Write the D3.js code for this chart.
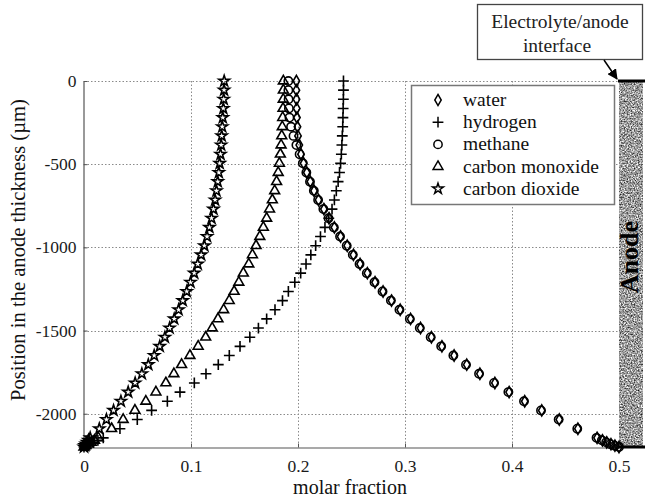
<!DOCTYPE html>
<html>
<head>
<meta charset="utf-8">
<script src="https://cdn.jsdelivr.net/npm/d3@7/dist/d3.min.js"></script>
<style>
  html, body { margin: 0; padding: 0; background: #fff; }
  svg { display: block; font-family: "Liberation Serif", "Times New Roman", serif; }
</style>
</head>
<body>
<svg id="chart" width="645" height="500"></svg>
<script>
// Position through the anode thickness (µm), shared by every species
const positions = [0, -55, -110, -165, -220, -275, -330, -385, -440, -495,
  -550, -605, -660, -715, -770, -825, -880, -935, -990, -1045,
  -1100, -1155, -1210, -1265, -1320, -1375, -1430, -1485, -1540, -1595,
  -1650, -1705, -1760, -1815, -1870, -1925, -1980, -2035, -2090, -2145,
  -2160, -2172, -2183, -2192, -2200];

// Molar fraction of each species at those positions
const water = [0.1985, 0.1985, 0.1986, 0.1988, 0.199, 0.1995, 0.2, 0.2012, 0.2028, 0.2052,
  0.2082, 0.2115, 0.215, 0.2192, 0.2242, 0.229, 0.234, 0.2398, 0.246, 0.2518,
  0.258, 0.2648, 0.272, 0.2795, 0.2874, 0.2955, 0.3052, 0.3145, 0.3247, 0.3345,
  0.3459, 0.3577, 0.37, 0.384, 0.3973, 0.4119, 0.4278, 0.4442, 0.4616, 0.4795,
  0.4845, 0.4885, 0.4925, 0.4962, 0.5];
const hydrogen = [0.2425, 0.2425, 0.2424, 0.2422, 0.242, 0.2418, 0.2414, 0.241, 0.2405, 0.2398,
  0.2388, 0.2375, 0.2358, 0.234, 0.2318, 0.2288, 0.2252, 0.221, 0.2165, 0.212,
  0.2075, 0.2025, 0.197, 0.191, 0.1855, 0.1785, 0.1707, 0.163, 0.155, 0.1458,
  0.1358, 0.1255, 0.114, 0.1031, 0.0897, 0.0779, 0.0632, 0.0498, 0.0336, 0.018,
  0.013, 0.009, 0.005, 0.002, 0.0];
const methane = [0.191, 0.191, 0.1912, 0.1915, 0.192, 0.1935, 0.1958, 0.1985, 0.2015, 0.2045,
  0.2078, 0.2112, 0.2148, 0.2188, 0.2237, 0.2285, 0.2335, 0.2393, 0.2455, 0.2512,
  0.2575, 0.2643, 0.2715, 0.279, 0.2868, 0.2948, 0.3045, 0.3138, 0.324, 0.3338,
  0.3452, 0.357, 0.3692, 0.3832, 0.3966, 0.4112, 0.4271, 0.4436, 0.461, 0.479,
  0.484, 0.488, 0.492, 0.496, 0.5];
const carbonMonoxide = [0.1863, 0.1863, 0.1862, 0.186, 0.1857, 0.1853, 0.1848, 0.1842, 0.1835, 0.1826,
  0.1815, 0.18, 0.1782, 0.176, 0.1734, 0.1707, 0.1676, 0.1643, 0.1608, 0.1574,
  0.154, 0.1489, 0.1447, 0.1403, 0.1357, 0.1305, 0.1252, 0.1198, 0.1137, 0.1067,
  0.099, 0.0912, 0.084, 0.0765, 0.0672, 0.0578, 0.0476, 0.0366, 0.0258, 0.0134,
  0.0098, 0.0068, 0.0038, 0.0016, 0.0];
const carbonDioxide = [0.131, 0.1309, 0.1306, 0.1302, 0.1297, 0.1292, 0.1287, 0.1282, 0.1276, 0.1268,
  0.126, 0.125, 0.1238, 0.1225, 0.121, 0.1192, 0.1172, 0.115, 0.1125, 0.1095,
  0.1063, 0.103, 0.0996, 0.096, 0.0923, 0.0884, 0.0843, 0.08, 0.0756, 0.0708,
  0.0656, 0.0601, 0.0541, 0.0478, 0.0413, 0.0345, 0.0276, 0.021, 0.0143, 0.0058,
  0.0042, 0.003, 0.0018, 0.0008, 0.0];

const seriesNames = ["water", "hydrogen", "methane", "carbon monoxide", "carbon dioxide"];
const xTicks = [0, 0.1, 0.2, 0.3, 0.4, 0.5];
const yTicks = [0, -500, -1000, -1500, -2000];

const svg = d3.select("#chart");
const plot = { left: 84, right: 619, top: 81, bottom: 447 };

const x = d3.scaleLinear().domain([0, 0.5]).range([plot.left, plot.right]);
const y = d3.scaleLinear().domain([-2200, 0]).range([plot.bottom, plot.top]);

// Marker generators, one per species
const symbolFor = {
  "water": d3.symbol().type(d3.symbolDiamond).size(36),
  "hydrogen": d3.symbol().type(d3.symbolPlus || d3.symbolCross).size(40),
  "methane": d3.symbol().type(d3.symbolCircle).size(54),
  "carbon monoxide": d3.symbol().type(d3.symbolTriangle).size(42),
  "carbon dioxide": d3.symbol().type(d3.symbolStar).size(36)
};
const valuesFor = {
  "water": water, "hydrogen": hydrogen, "methane": methane,
  "carbon monoxide": carbonMonoxide, "carbon dioxide": carbonDioxide
};

// Grain texture for the anode layer
const defs = svg.append("defs");
const grain = defs.append("filter").attr("id", "grain")
  .attr("x", 0).attr("y", 0).attr("width", 1).attr("height", 1)
  .attr("filterUnits", "objectBoundingBox")
  .attr("color-interpolation-filters", "sRGB");
grain.append("feTurbulence").attr("type", "fractalNoise")
  .attr("baseFrequency", 0.7).attr("numOctaves", 2).attr("seed", 7).attr("result", "n");
grain.append("feColorMatrix").attr("type", "matrix")
  .attr("values", "1.5 0 0 0 -0.14  1.5 0 0 0 -0.14  1.5 0 0 0 -0.14  0 0 0 0 1");
grain.append("feGaussianBlur").attr("stdDeviation", 0.35);

// Grid
const grid = svg.append("g").attr("stroke", "#8a8a8a").attr("stroke-width", 1)
  .attr("stroke-dasharray", "1.5,2");
grid.selectAll("line.gx").data(xTicks.filter(t => t > 0 && t < 0.5)).join("line")
  .attr("x1", d => Math.round(x(d)) + 0.5).attr("x2", d => Math.round(x(d)) + 0.5)
  .attr("y1", plot.top).attr("y2", plot.bottom);
grid.selectAll("line.gy").data(yTicks).join("line")
  .attr("y1", d => Math.round(y(d)) + 0.5).attr("y2", d => Math.round(y(d)) + 0.5)
  .attr("x1", plot.left).attr("x2", plot.right);

// Axes
const xAxis = d3.axisBottom(x).tickValues(xTicks).tickFormat(d => d === 0 ? "0" : d3.format(".1f")(d))
  .tickSizeInner(-4).tickSizeOuter(0).tickPadding(12);
const yAxis = d3.axisLeft(y).tickValues(yTicks).tickFormat(d => d === 0 ? "0" : String(d))
  .tickSizeInner(-4).tickSizeOuter(0).tickPadding(7);

const gx = svg.append("g").attr("transform", `translate(0,${plot.bottom + 0.5})`).call(xAxis);
const gy = svg.append("g").attr("transform", `translate(${plot.left - 0.5},0)`).call(yAxis);
[gx, gy].forEach(g => {
  g.select(".domain").attr("stroke", "#555").attr("stroke-width", 1.2);
  g.selectAll(".tick line").attr("stroke", "#555");
  g.selectAll(".tick text").attr("fill", "#1a1a1a").attr("font-size", 17.5)
    .attr("font-family", "Liberation Serif, serif");
});

// Anode layer on the right
const anodeLeft = x(0.5);
svg.append("rect").attr("x", anodeLeft).attr("y", plot.top).attr("width", 645 - anodeLeft - 2)
  .attr("height", plot.bottom - plot.top).attr("fill", "#a0a0a0").attr("filter", "url(#grain)");
svg.append("line").attr("x1", anodeLeft - 1).attr("x2", 645).attr("y1", plot.top).attr("y2", plot.top)
  .attr("stroke", "#000").attr("stroke-width", 3);
svg.append("line").attr("x1", anodeLeft - 1).attr("x2", 645).attr("y1", plot.bottom).attr("y2", plot.bottom)
  .attr("stroke", "#000").attr("stroke-width", 3);
svg.append("text").attr("transform", `translate(${anodeLeft + 19},257) rotate(-90)`)
  .attr("text-anchor", "middle").attr("font-weight", "bold").attr("font-size", 26).attr("fill", "#000")
  .text("Anode");

// Markers
seriesNames.forEach(name => {
  const vals = valuesFor[name];
  svg.append("g").attr("fill", "none").attr("stroke", "#000").attr("stroke-width", 1.6)
    .selectAll("path").data(positions.map((p, i) => [vals[i], p])).join("path")
    .attr("transform", d => `translate(${x(d[0])},${y(d[1])})`)
    .attr("d", symbolFor[name]());
});

// Legend
const legend = svg.append("g");
legend.append("rect").attr("x", 411.5).attr("y", 85.5).attr("width", 203).attr("height", 119)
  .attr("fill", "#fff").attr("stroke", "#777").attr("stroke-width", 1.5);
seriesNames.forEach((name, i) => {
  const ly = 100 + i * 22.2;
  legend.append("path").attr("transform", `translate(438,${ly})`)
    .attr("d", symbolFor[name]()).attr("fill", "none").attr("stroke", "#000").attr("stroke-width", 1.5);
  legend.append("text").attr("x", 463).attr("y", ly + 6).attr("font-size", 19.5).attr("fill", "#111")
    .text(name);
});

// Axis titles
svg.append("text").attr("x", 350).attr("y", 494)
  .attr("text-anchor", "middle").attr("font-size", 20).attr("fill", "#111").text("molar fraction");
svg.append("text").attr("transform", `translate(25,250) rotate(-90)`)
  .attr("text-anchor", "middle").attr("font-size", 20.6).attr("fill", "#111")
  .text("Position in the anode thickness (µm)");

// Callout for the electrolyte/anode interface
const callout = svg.append("g");
callout.append("rect").attr("x", 477.5).attr("y", 4.5).attr("width", 165).attr("height", 55)
  .attr("fill", "#fff").attr("stroke", "#444").attr("stroke-width", 1.3);
callout.append("text").attr("x", 560).attr("y", 28).attr("text-anchor", "middle")
  .attr("font-size", 19.5).attr("fill", "#222").text("Electrolyte/anode");
callout.append("text").attr("x", 557).attr("y", 52).attr("text-anchor", "middle")
  .attr("font-size", 19.5).attr("fill", "#222").text("interface");
defs.append("marker").attr("id", "arrowHead").attr("viewBox", "0 0 10 10").attr("refX", 9).attr("refY", 5)
  .attr("markerWidth", 7).attr("markerHeight", 7).attr("orient", "auto")
  .append("path").attr("d", "M0,0 L10,5 L0,10 z").attr("fill", "#000");
callout.append("line").attr("x1", 604).attr("y1", 60).attr("x2", 617).attr("y2", 79)
  .attr("stroke", "#000").attr("stroke-width", 1.5).attr("marker-end", "url(#arrowHead)");
</script>
</body>
</html>
